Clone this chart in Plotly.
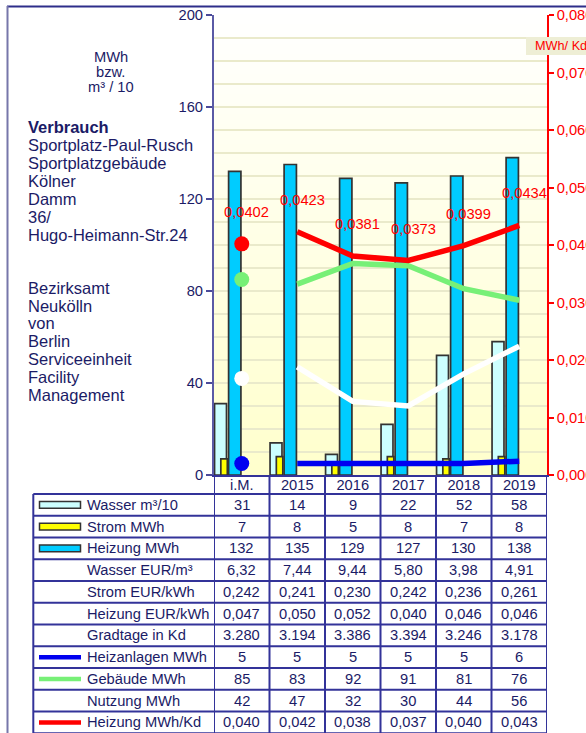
import plotly.graph_objects as go

# ---------------- data ----------------
categories = ["i.M.", "2015", "2016", "2017", "2018", "2019"]
wasser = [31, 14, 9, 22, 52, 58]            # m³/10
strom = [7, 8, 5, 8, 7, 8]                  # MWh
heizung = [132, 135, 129, 127, 130, 138]    # MWh
wasser_eur = [6.32, 7.44, 9.44, 5.80, 3.98, 4.91]
strom_eur = [0.242, 0.241, 0.230, 0.242, 0.236, 0.261]
heizung_eur = [0.047, 0.050, 0.052, 0.040, 0.046, 0.046]
gradtage = [3280, 3194, 3386, 3394, 3246, 3178]
heizanlagen = [5, 5, 5, 5, 5, 6]
gebaeude = [85, 83, 92, 91, 81, 76]
nutzung = [42, 47, 32, 30, 44, 56]
heizung_kd = [0.0402, 0.0423, 0.0381, 0.0373, 0.0399, 0.0434]

title_lines = ["Sportplatz-Paul-Rusch", "Sportplatzgebäude", "Kölner", "Damm", "36/",
               "Hugo-Heimann-Str.24"]
owner_lines = ["Bezirksamt", "Neukölln", "von", "Berlin", "Serviceeinheit", "Facility",
               "Management"]
unit_lines = ["MWh", "bzw.", "m³ / 10"]

# ---------------- styling ----------------
W, H = 586, 733
L, R, T, B = 214, 547, 15, 475
NAVY = "#1B1B66"
TABLE_LINE = "#333399"
FONT = "Liberation Sans, Arial, sans-serif"
FS = 14.7
C_WASSER = "#CCFFFF"
C_STROM = "#FFFF00"
C_HEIZ = "#00CCFF"
C_BLUE = "#0000F0"
C_GREEN = "#77F077"
C_RED = "#FF0000"
GRID = "#EAEACB"


def px(x):
    return (x - L) / (R - L)


def py(y):
    return (B - y) / (B - T)


def de(v, d):
    return f"{v:.{d}f}".replace(".", ",")


def thou(v):
    return f"{v:,}".replace(",", ".")


fig = go.Figure()

# bars
fig.add_trace(go.Bar(x=categories, y=wasser, offset=-0.49, width=0.215,
                     marker=dict(color=C_WASSER, line=dict(color="#333333", width=1.7))))
fig.add_trace(go.Bar(x=categories, y=strom, offset=-0.377, width=0.117,
                     marker=dict(color=C_STROM, line=dict(color="#333333", width=1.7))))
fig.add_trace(go.Bar(x=categories, y=heizung, offset=-0.237, width=0.222,
                     marker=dict(color=C_HEIZ, line=dict(color="#333333", width=1.7))))

# lines (years) + i.M. markers
for vals, col, ax in [(nutzung, "#FFFFFF", "y"), (gebaeude, C_GREEN, "y"),
                      (heizanlagen, C_BLUE, "y"), (heizung_kd, C_RED, "y2")]:
    fig.add_trace(go.Scatter(x=categories[1:], y=vals[1:], mode="lines", yaxis=ax,
                             line=dict(color=col, width=5.5)))
    fig.add_trace(go.Scatter(x=[categories[0]], y=[vals[0]], mode="markers", yaxis=ax,
                             marker=dict(color=col, size=15, line=dict(width=0))))

annotations = []
shapes = []

# data labels of red series (x as category index)
for i, v in enumerate(heizung_kd):
    annotations.append(dict(x=i, y=v, xref="x", yref="y2", text=de(v, 4), showarrow=False,
                            yshift=32, xshift=5, font=dict(color=C_RED, size=FS)))

# background gradient of plot area
n = 46
for i in range(n):
    f = (i + 0.5) / n
    b = int(round(255 - (255 - 204) * f))
    shapes.append(dict(type="rect", xref="paper", yref="paper", x0=0, x1=1,
                       y0=1 - (i + 1) / n, y1=1 - i / n + 0.002, layer="below",
                       fillcolor=f"rgb(255,255,{b})", line=dict(width=0)))

# outer frame
shapes.append(dict(type="line", xref="paper", yref="paper", x0=px(7), x1=px(590),
                   y0=py(6.5), y1=py(6.5), line=dict(color="#2E2E8A", width=2)))
shapes.append(dict(type="line", xref="paper", yref="paper", x0=px(7.5), x1=px(7.5),
                   y0=py(6), y1=py(740), line=dict(color="#7777AA", width=2)))

# right axis unit box
shapes.append(dict(type="rect", xref="paper", yref="paper", x0=px(526), x1=px(590),
                   y0=py(55), y1=py(37), fillcolor="#EEEED5", line=dict(width=0), layer="above"))
annotations.append(dict(x=px(532.5), y=py(46), xref="paper", yref="paper", text="MWh/ Kd",
                        showarrow=False, xanchor="left", yanchor="middle",
                        font=dict(color=C_RED, size=12.7)))

# left texts
for i, t in enumerate(unit_lines):
    annotations.append(dict(x=px(110.5), y=py(56.7 + 15.3 * i), xref="paper", yref="paper",
                            text=t, showarrow=False, xanchor="center", yanchor="middle",
                            font=dict(color=NAVY, size=14.7)))
annotations.append(dict(x=px(26), y=py(126.7), xref="paper", yref="paper",
                        text="<b>Verbrauch</b>", showarrow=False, xanchor="left",
                        yanchor="middle", font=dict(color=NAVY, size=16.5)))
for i, t in enumerate(title_lines):
    annotations.append(dict(x=px(26), y=py(144.5 + 18.1 * i), xref="paper", yref="paper",
                            text=t, showarrow=False, xanchor="left", yanchor="middle",
                            font=dict(color=NAVY, size=16.5)))
for i, t in enumerate(owner_lines):
    annotations.append(dict(x=px(26), y=py(287.7 + 17.8 * i), xref="paper", yref="paper",
                            text=t, showarrow=False, xanchor="left", yanchor="middle",
                            font=dict(color=NAVY, size=16.5)))

# table
rows = [
    ("Wasser m³/10", ("bar", C_WASSER), [str(v) for v in wasser]),
    ("Strom MWh", ("bar", C_STROM), [str(v) for v in strom]),
    ("Heizung MWh", ("bar", C_HEIZ), [str(v) for v in heizung]),
    ("Wasser EUR/m³", None, [de(v, 2) for v in wasser_eur]),
    ("Strom EUR/kWh", None, [de(v, 3) for v in strom_eur]),
    ("Heizung EUR/kWh", None, [de(v, 3) for v in heizung_eur]),
    ("Gradtage in Kd", None, [thou(v) for v in gradtage]),
    ("Heizanlagen MWh", ("line", C_BLUE), [str(v) for v in heizanlagen]),
    ("Gebäude MWh", ("line", C_GREEN), [str(v) for v in gebaeude]),
    ("Nutzung MWh", None, [str(v) for v in nutzung]),
    ("Heizung MWh/Kd", ("line", C_RED), [de(v, 3) for v in heizung_kd]),
]
row_top = 494.0
row_h = 21.75
tab_left = 33.3
for k in range(len(rows) + 1):
    y = row_top + k * row_h
    shapes.append(dict(type="line", xref="paper", yref="paper", x0=px(tab_left), x1=1,
                       y0=py(y), y1=py(y), line=dict(color=TABLE_LINE, width=2)))
y_end = row_top + len(rows) * row_h
shapes.append(dict(type="line", xref="paper", yref="paper", x0=px(tab_left), x1=px(tab_left),
                   y0=py(row_top), y1=py(y_end), line=dict(color=TABLE_LINE, width=2)))
for i in range(len(categories) + 1):
    shapes.append(dict(type="line", xref="x", yref="paper", x0=i - 0.5, x1=i - 0.5,
                       y0=0, y1=py(y_end), line=dict(color=TABLE_LINE, width=2)))
for k, (label, sw, vals) in enumerate(rows):
    yc = row_top + (k + 0.5) * row_h
    annotations.append(dict(x=px(85), y=py(yc), xref="paper", yref="paper", text=label,
                            showarrow=False, xanchor="left", yanchor="middle",
                            font=dict(color=NAVY, size=FS)))
    for i, v in enumerate(vals):
        annotations.append(dict(x=i, y=py(yc), xref="x", yref="paper", text=v,
                                showarrow=False, xanchor="center", yanchor="middle",
                                font=dict(color=NAVY, size=FS)))
    if sw is not None:
        kind, col = sw
        if kind == "bar":
            shapes.append(dict(type="rect", xref="paper", yref="paper", x0=px(39.5), x1=px(80.5),
                               y0=py(yc + 3.3), y1=py(yc - 3.3), fillcolor=col,
                               line=dict(color="#333333", width=1.5)))
        else:
            shapes.append(dict(type="line", xref="paper", yref="paper", x0=px(39), x1=px(81),
                               y0=py(yc), y1=py(yc), line=dict(color=col, width=4.5)))

fig.update_layout(
    template="none",
    width=W, height=H, autosize=False,
    margin=dict(l=L, r=W - R, t=T, b=H - B, pad=0, autoexpand=False),
    paper_bgcolor="white", plot_bgcolor="rgba(0,0,0,0)",
    font=dict(family=FONT, size=FS, color=NAVY),
    separators=",.",
    barmode="overlay", showlegend=False,
    shapes=shapes, annotations=annotations,
    xaxis=dict(type="category", categoryorder="array", categoryarray=categories,
               range=[-0.5, len(categories) - 0.5], showline=True, linecolor=TABLE_LINE,
               linewidth=2, ticks="", showgrid=False, zeroline=False, automargin=False,
               ticklabelstandoff=-5, tickfont=dict(color=NAVY, size=FS)),
    yaxis=dict(range=[0, 200], dtick=40, ticks="outside", ticklen=6, tickcolor="#4A4A99",
               tickwidth=1.5, showline=True, linecolor="#5A5AA5", linewidth=2,
               showgrid=True, gridcolor=GRID, gridwidth=1.5, zeroline=False, automargin=False,
               minor=dict(dtick=10, showgrid=True, gridcolor=GRID, gridwidth=1.5, ticks=""),
               tickfont=dict(color=NAVY, size=FS)),
    yaxis2=dict(range=[0, 0.08], dtick=0.01, tickformat=".3f", overlaying="y", side="right",
                ticks="outside", ticklen=5, tickcolor=C_RED, tickwidth=1.5, showline=True,
                linecolor=C_RED, linewidth=1.5, showgrid=False, zeroline=False,
                automargin=False, tickfont=dict(color=C_RED, size=FS)),
)

fig.write_html(
    "out.html",
    config={"displayModeBar": False},
    post_script="document.body.style.margin='0';document.body.style.overflow='hidden';",
)
